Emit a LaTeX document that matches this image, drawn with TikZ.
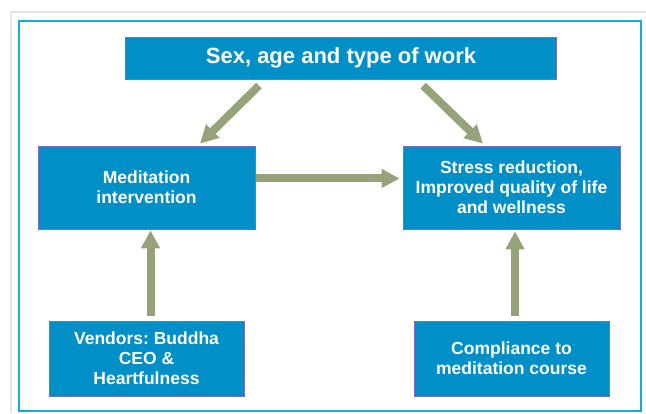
\documentclass[tikz,border=0pt]{standalone}
\usepackage{fontspec}
\setmainfont{Liberation Sans}
\usepackage{xcolor}
\usepackage{tikz}
\usetikzlibrary{arrows.meta}
\frenchspacing

\definecolor{boxblue}{RGB}{0,144,199}
\definecolor{boxedge}{RGB}{120,110,200}
\definecolor{arrgreen}{RGB}{150,163,122}
\definecolor{framecyan}{RGB}{20,172,224}
\definecolor{framegray}{RGB}{226,231,226}

\begin{document}
\begin{tikzpicture}[
    x=1pt, y=1pt,
    box/.style={rectangle, draw=boxedge, line width=0.8pt, fill=boxblue, text=white, align=center, inner sep=0pt, minimum height=83pt, minimum width=217pt, font=\bfseries\fontsize{17.5}{20}\selectfont},
    lowbox/.style={box, minimum height=75pt, minimum width=195pt},
    topbox/.style={box, minimum height=42pt, minimum width=430.6pt, font=\bfseries\fontsize{22}{25}\selectfont},
    arr/.style={-{Triangle[width=18pt, length=18pt]}, line width=8pt, draw=arrgreen}
]
    \useasboundingbox (0,0) rectangle (646,413);
    % outer frames
    \draw [framegray, line width=1.6pt] (11,0) -- (11,401) -- (646,401);
    \draw [framecyan, line width=2pt] (19,2) rectangle (641,392.3);

    \node [topbox] (work) at (341,354.7) {Sex, age and type of work};
    \node [box] (medi) at (146.5,225.5) {Meditation\\intervention};
    \node [box] (stress) at (511.5,225.5) {Stress reduction,\\Improved quality of life\\and wellness};
    \node [lowbox] (vend) at (146.5,54.5) {Vendors: Buddha\\CEO \&\\Heartfulness};
    \node [lowbox] (compl) at (511.5,54.5) {Compliance to\\meditation course};

    \draw [arr, shorten <=8.5pt, shorten >=2.8pt] ([xshift=-76pt]work.south) -- ([xshift=51.5pt]medi.north);
    \draw [arr, shorten <=8.5pt, shorten >=2.8pt] ([xshift=76pt]work.south) -- ([xshift=-26.5pt]stress.north);
    \draw [arr, shorten <=1pt, shorten >=3pt] ([yshift=9pt]medi.east) -- ([yshift=9pt]stress.west);
    \draw [arr, shorten <=5pt, shorten >=1pt] ([xshift=4pt]vend.north) -- ([xshift=4pt]medi.south);
    \draw [arr, shorten <=5pt, shorten >=2pt] ([xshift=3.5pt]compl.north) -- ([xshift=3.5pt]stress.south);
\end{tikzpicture}
\end{document}
